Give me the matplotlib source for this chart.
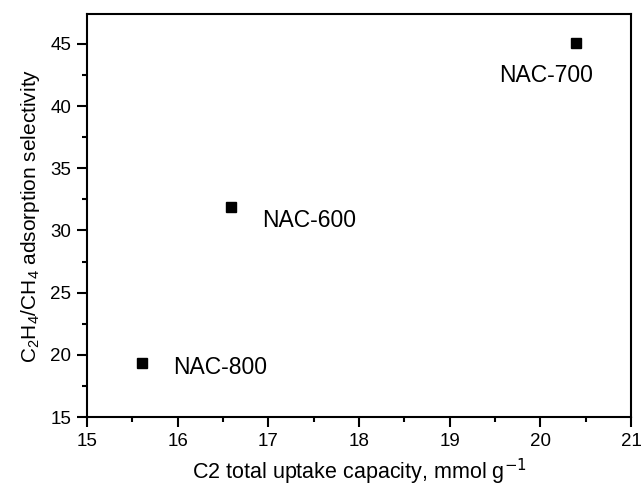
import matplotlib
matplotlib.use("Agg")
import matplotlib.pyplot as plt
from matplotlib.ticker import MultipleLocator

plt.rcParams["font.family"] = ["Liberation Sans", "DejaVu Sans"]
plt.rcParams["mathtext.fontset"] = "custom"
plt.rcParams["mathtext.rm"] = "Liberation Sans"
plt.rcParams["mathtext.it"] = "Liberation Sans:italic"

# data
samples = ["NAC-800", "NAC-600", "NAC-700"]
uptake = [15.61, 16.59, 20.39]
selectivity = [19.35, 31.85, 45.1]
label_offsets = [(22, -3.4), (22, -9.4), (-55, -24)]

fig = plt.figure(figsize=(6.41, 4.87), dpi=100)
ax = fig.add_axes([0.1357, 0.1437, 0.8487, 0.8276])

ax.plot(uptake, selectivity, "s", color="black", markersize=7, linestyle="none")

for name, x, y, off in zip(samples, uptake, selectivity, label_offsets):
    ax.annotate(name, (x, y), xytext=off, textcoords="offset points",
                ha="left", va="center", fontsize=16.5)

ax.set_xlim(15, 21)
ax.set_ylim(15, 47.4)
ax.xaxis.set_major_locator(MultipleLocator(1))
ax.xaxis.set_minor_locator(MultipleLocator(0.5))
ax.yaxis.set_major_locator(MultipleLocator(5))
ax.yaxis.set_minor_locator(MultipleLocator(2.5))

ax.tick_params(which="major", direction="out", length=7, width=1.5, labelsize=13.5, pad=4.5)
ax.tick_params(which="minor", direction="out", length=3.5, width=1.5)
ax.tick_params(top=False, right=False)
for sp in ax.spines.values():
    sp.set_linewidth(1.5)

ax.set_xlabel("C2 total uptake capacity, mmol g$^{\\mathsf{-1}}$", fontsize=15.5, labelpad=5)
ax.set_ylabel("C$_2$H$_4$/CH$_4$ adsorption selectivity", fontsize=15, labelpad=6)

fig.savefig("out.png", dpi=100)
plt.close(fig)
